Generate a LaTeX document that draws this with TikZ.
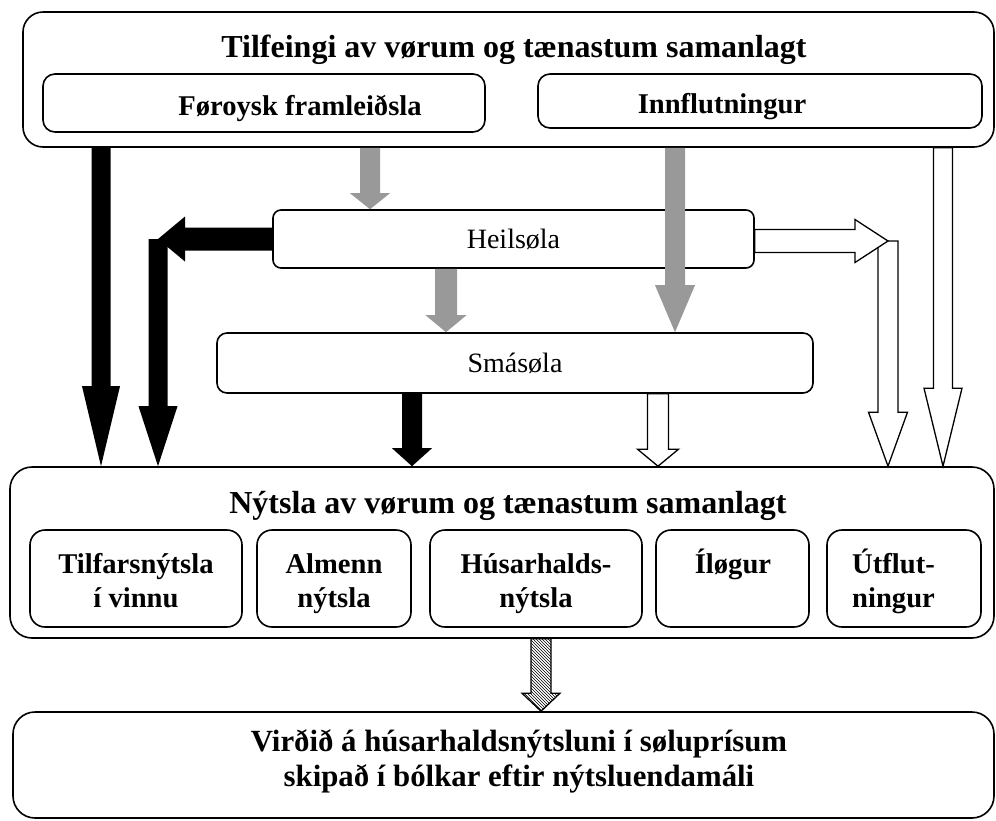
\documentclass[tikz,border=0pt]{standalone}
\usepackage{fontspec}
\setmainfont{Liberation Serif}
\usetikzlibrary{calc, patterns}

\tikzset{
    fat shaft/.store in=\fatshaft,
    fat head/.store in=\fathead,
    fat tip/.store in=\fattip
}

\begin{document}
\begin{tikzpicture}[
    x=1pt, y=-1pt,
    fat shaft=10pt, fat head=20pt, fat tip=20pt,
    box/.style={rectangle, draw=black, fill=white, line width=1.6pt, inner sep=0pt},
    headtext/.style={font=\fontsize{32}{38}\selectfont\bfseries, anchor=base, inner sep=0pt},
    parttext/.style={font=\fontsize{28.6}{34}\selectfont\bfseries, anchor=base, inner sep=0pt},
    saletext/.style={font=\fontsize{28}{34}\selectfont},
    endtext/.style={font=\fontsize{30.8}{35}\selectfont\bfseries, align=center, anchor=base, inner sep=0pt},
    fat/.style={line join=miter, to path={
        ($(\tikztostart)!\fatshaft!90:(\tikztotarget)$)
        -- ($(\tikztotarget)!\fattip!(\tikztostart)!\fatshaft!-90:(\tikztostart)$)
        -- ($(\tikztotarget)!\fattip!(\tikztostart)!\fathead!-90:(\tikztostart)$)
        -- (\tikztotarget)
        -- ($(\tikztotarget)!\fattip!(\tikztostart)!\fathead!90:(\tikztostart)$)
        -- ($(\tikztotarget)!\fattip!(\tikztostart)!\fatshaft!90:(\tikztostart)$)
        -- ($(\tikztostart)!\fatshaft!-90:(\tikztotarget)$)
        -- cycle}},
    blk/.style={fat, fill=black, draw=none},
    gry/.style={fat, fill=black!40, draw=none},
    wht/.style={fat, fill=white, draw=black, line width=1.3pt},
    hatch/.style={fat, pattern=north west lines, draw=black, line width=1.3pt}
]
\useasboundingbox (0,0) rectangle (996,820);

\node[box, rounded corners=20pt, minimum width=971pt, minimum height=135pt] (top) at (508.5,79.5) {};
\node[headtext] (toptitle) at (514,57) {Tilfeingi av vørum og tænastum samanlagt};
\node[box, rounded corners=12pt, minimum width=442pt, minimum height=58pt] (foroysk) at (264,103) {};
\node[parttext] (foroysktext) at (300,115) {Føroysk framleiðsla};
\node[box, rounded corners=12pt, minimum width=444pt, minimum height=54pt] (innfl) at (760,101) {};
\node[parttext] (innfltext) at (722,113) {Innflutningur};

\node[box, saletext, rounded corners=8pt, minimum width=481pt, minimum height=58pt] (heil) at (513.5,239) {Heilsøla};
\node[box, saletext, rounded corners=10pt, minimum width=596pt, minimum height=60pt] (sma) at (515,363) {Smásøla};

\node[box, rounded corners=22pt, minimum width=984pt, minimum height=171pt] (bot) at (502,552.5) {};
\node[headtext] (bottitle) at (508,513) {Nýtsla av vørum og tænastum samanlagt};
\node[box, rounded corners=15pt, minimum width=212pt, minimum height=97pt] (tilf) at (136,578.5) {};
\node[box, rounded corners=15pt, minimum width=154pt, minimum height=97pt] (alm) at (334,578.5) {};
\node[box, rounded corners=15pt, minimum width=212pt, minimum height=97pt] (hus) at (536,578.5) {};
\node[box, rounded corners=15pt, minimum width=153pt, minimum height=97pt] (ilo) at (732.5,578.5) {};
\node[box, rounded corners=15pt, minimum width=154pt, minimum height=97pt] (utf) at (904,578.5) {};
\node[parttext, align=center] (tilftext) at (136,607) {Tilfarsnýtsla\\í vinnu};
\node[parttext, align=center] (almtext) at (334,607) {Almenn\\nýtsla};
\node[parttext, align=center] (hustext) at (536,607) {Húsarhalds-\\nýtsla};
\node[parttext] (ilotext) at (733,573) {Íløgur};
\node[parttext, align=left, anchor=base west] (utftext) at (852,607) {Útflut-\\ningur};

\node[box, rounded corners=22pt, minimum width=981pt, minimum height=106pt] (fin) at (503.5,765) {};
\node[endtext] (fintext) at (519,786) {Virðið á húsarhaldsnýtsluni í søluprísum\\skipað í bólkar eftir nýtsluendamáli};

\coordinate (lbend) at (158,239);
\coordinate (rbend) at (888,241);

\draw[blk, fat shaft=9.5pt, fat head=19pt, fat tip=80pt] (top.south -| 101,0) to (bot.north -| 101,0);
\draw[blk, fat shaft=11.5pt, fat head=22.5pt, fat tip=27pt] (heil.west) to (lbend);
\draw[blk, fat shaft=9.5pt, fat head=19.5pt, fat tip=60pt] (lbend) to (bot.north -| lbend);
\draw[blk, fat tip=18pt] (sma.south -| 412,0) to (bot.north -| 412,0);

\draw[gry, fat tip=16pt] (top.south -| 370,0) to (heil.north -| 370,0);
\draw[gry, fat shaft=11pt, fat head=20.5pt, fat tip=17pt] (heil.south -| 446,0) to (sma.north -| 446,0);
\draw[gry, fat tip=47pt] (top.south -| 675,0) to (sma.north -| 675,0);

\draw[wht, fat head=19.5pt, fat tip=54pt] (rbend) to (bot.north -| rbend);
\draw[wht, fat shaft=11.5pt, fat head=21.5pt, fat tip=33pt] (heil.east |- rbend) to (rbend);
\draw[wht, fat shaft=9.5pt, fat head=19pt, fat tip=78pt] (top.south -| 943,0) to (bot.north -| 943,0);
\draw[wht, fat shaft=10.5pt, fat head=20.5pt, fat tip=17pt] (sma.south -| 658,0) to (bot.north -| 658,0);

\draw[hatch, fat head=19pt, fat tip=18pt] (bot.south -| 541,0) to (fin.north -| 541,0);

\end{tikzpicture}
\end{document}
